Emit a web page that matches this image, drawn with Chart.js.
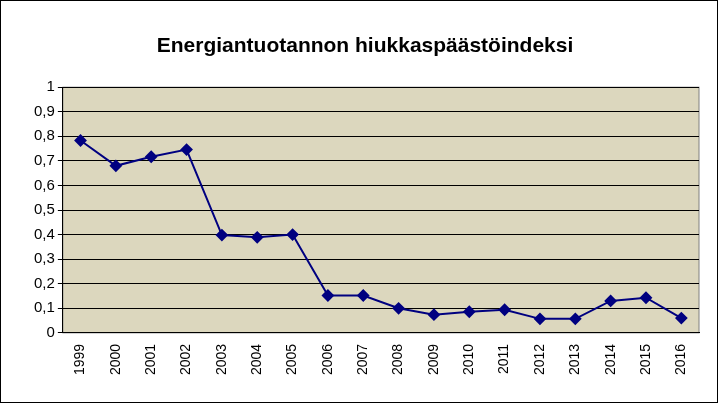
<!DOCTYPE html>
<html>
<head>
<meta charset="utf-8">
<script src="https://cdn.jsdelivr.net/npm/chart.js@4/dist/chart.umd.min.js"></script>
<style>
  body { margin: 0; background: #fff; }
  #wrap { width: 716px; height: 401px; border: 1px solid #000; position: relative; }
</style>
</head>
<body>
<div id="wrap"><canvas id="chart" width="716" height="401"></canvas></div>
<script>
// vuodet ja indeksin arvot
const years = ['1999','2000','2001','2002','2003','2004','2005','2006','2007','2008',
  '2009','2010','2011','2012','2013','2014','2015','2016'];
const indexValues = [0.783, 0.68, 0.717, 0.746, 0.398, 0.389, 0.40, 0.152, 0.152, 0.10,
  0.074, 0.086, 0.094, 0.057, 0.057, 0.13, 0.143, 0.06];

// piirtoalueen tausta
const plotBg = {
  id: 'plotBg',
  beforeDraw(chart) {
    const { ctx, chartArea: a } = chart;
    ctx.save();
    ctx.fillStyle = '#DCD7BE';
    ctx.fillRect(a.left, a.top, a.right - a.left, a.bottom - a.top);
    ctx.strokeStyle = '#808080';
    ctx.strokeRect(a.left, a.top, a.right - a.left, a.bottom - a.top);
    ctx.restore();
  }
};

new Chart(document.getElementById('chart'), {
  type: 'line',
  data: {
    labels: years,
    datasets: [{
      data: indexValues,
      borderColor: '#000080',
      backgroundColor: '#000080',
      borderWidth: 2,
      pointStyle: 'rectRot',
      pointRadius: 5,
      tension: 0
    }]
  },
  options: {
    responsive: false,
    animation: false,
    layout: { padding: { left: 30, right: 18, top: 20, bottom: 24 } },
    plugins: {
      legend: { display: false },
      title: {
        display: true,
        text: 'Energiantuotannon hiukkaspäästöindeksi',
        color: '#000',
        font: { family: 'Liberation Sans', size: 21, weight: 'bold' },
        padding: { top: 13, bottom: 28 }
      },
      tooltip: { enabled: false }
    },
    scales: {
      x: {
        offset: true,
        grid: { display: false },
        border: { color: '#000' },
        ticks: {
          color: '#000', maxRotation: 90, minRotation: 90,
          font: { family: 'Liberation Sans', size: 14 }
        }
      },
      y: {
        min: 0, max: 1,
        grid: { color: '#000', drawTicks: true, tickLength: 5 },
        border: { color: '#000' },
        ticks: {
          stepSize: 0.1, color: '#000',
          font: { family: 'Liberation Sans', size: 15 },
          callback: v => (Math.round(v * 10) / 10).toString().replace('.', ',')
        }
      }
    }
  },
  plugins: [plotBg]
});
</script>
</body>
</html>
